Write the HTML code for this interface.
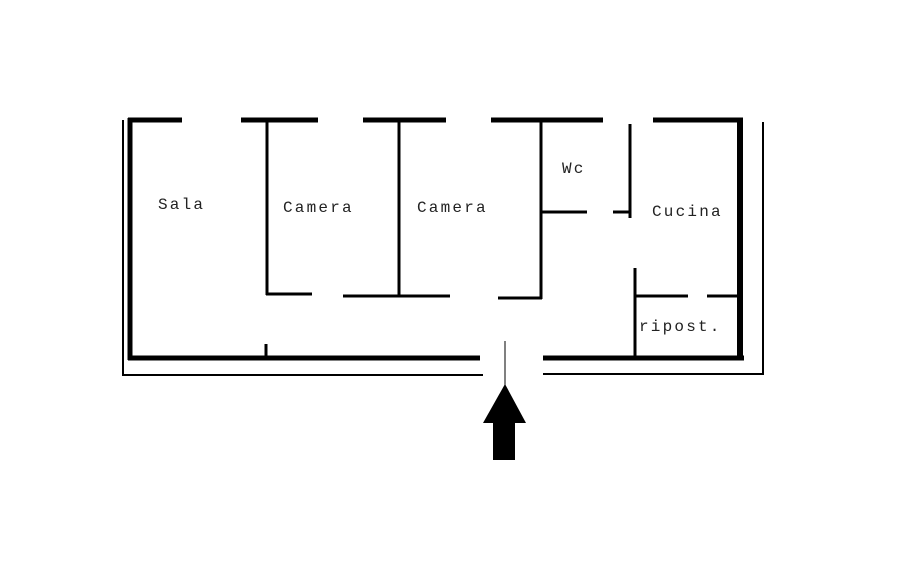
<!DOCTYPE html><html><head><style>body{margin:0;background:#fff}</style></head><body>
<svg width="919" height="563" xmlns="http://www.w3.org/2000/svg" style="display:block">
<g stroke="#000" fill="none" stroke-linecap="butt">
<g stroke-width="5">
<line x1="128" y1="120" x2="182" y2="120"/><line x1="241" y1="120" x2="318" y2="120"/>
<line x1="363" y1="120" x2="446" y2="120"/><line x1="491" y1="120" x2="603" y2="120"/>
<line x1="653" y1="120" x2="743" y2="120"/>
<line x1="130" y1="118" x2="130" y2="360"/>
<line x1="128" y1="358" x2="480" y2="358"/><line x1="543" y1="358" x2="744" y2="358"/>
<line x1="740" y1="118" x2="740" y2="360" stroke-width="6"/>
</g>
<g stroke-width="2">
<line x1="123" y1="120" x2="123" y2="375"/><line x1="122" y1="375" x2="483" y2="375"/>
<line x1="543" y1="374" x2="764" y2="374"/><line x1="763" y1="122" x2="763" y2="375"/>
</g>
<g stroke-width="3">
<line x1="266" y1="344" x2="266" y2="358"/>
<line x1="267" y1="120" x2="267" y2="295"/><line x1="266" y1="294" x2="312" y2="294"/>
<line x1="399" y1="120" x2="399" y2="296"/><line x1="343" y1="296" x2="450" y2="296"/>
<line x1="541" y1="120" x2="541" y2="299"/><line x1="498" y1="298" x2="542" y2="298"/>
<line x1="541" y1="212" x2="587" y2="212"/><line x1="613" y1="212" x2="630" y2="212"/>
<line x1="630" y1="124" x2="630" y2="218"/>
<line x1="635" y1="268" x2="635" y2="358"/>
<line x1="636" y1="296" x2="688" y2="296"/><line x1="707" y1="296" x2="740" y2="296"/>
</g>
<line x1="505" y1="341" x2="505" y2="385" stroke-width="1"/>
</g>
<polygon points="505,384 483,423 526,423" fill="#000"/>
<rect x="493" y="421" width="22" height="39" fill="#000"/>
<g font-family="Liberation Mono, monospace" font-size="16" fill="#222" letter-spacing="2.2">
<text x="158" y="209">Sala</text>
<text x="283" y="212">Camera</text>
<text x="417" y="212">Camera</text>
<text x="562" y="173">Wc</text>
<text x="652" y="216">Cucina</text>
<text x="639" y="331">ripost.</text>
</g>
</svg></body></html>
